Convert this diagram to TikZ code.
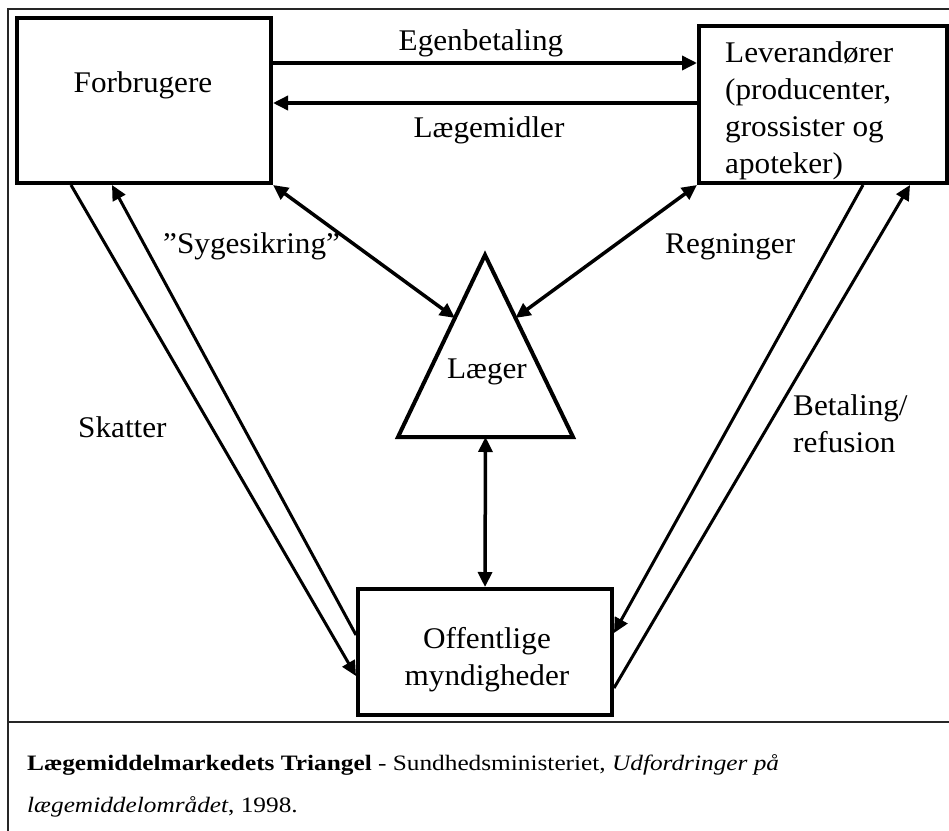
\documentclass[tikz,border=0pt]{standalone}
\usepackage{fontspec}
\setmainfont{Liberation Serif}[FakeStretch=1.04]
\newfontfamily\capfont{Liberation Serif}[FakeStretch=1.15]
\usetikzlibrary{arrows.meta,calc}

\begin{document}
\begin{tikzpicture}[x=1pt,y=-1pt,
  box/.style={draw,line width=4pt,inner sep=0pt,rectangle},
  lbl/.style={inner sep=0pt,font=\fontsize{30}{37}\selectfont},
  arr/.style={line width=3.5pt,-{Triangle[length=15pt,width=14pt]}},
  biarr/.style={line width=3.5pt,{Triangle[length=15pt,width=14pt]}-{Triangle[length=15pt,width=14pt]}},
  flow/.style={line width=3pt,-{Triangle[length=15pt,width=14pt]}},
  frameline/.style={line width=1.5pt,draw=black!85},
  caption/.style={anchor=base west,inner sep=0pt,font=\capfont\fontsize{22}{42}\selectfont}]
\useasboundingbox (0,0) rectangle (949,830);

% outer frame and caption divider
\draw[frameline] (955,9) -- (8,9) -- (8,840);
\draw[frameline] (8,722) -- (955,722);

% the three boxes
\node[box,minimum width=254pt,minimum height=165pt] (forb) at (144,100.5) {};
\node[box,minimum width=248pt,minimum height=157pt] (lev) at (823,104.5) {};
\node[box,minimum width=254pt,minimum height=126pt] (off) at (485,652) {};

% the triangle in the middle
\coordinate (apex) at (485,255);
\coordinate (bl) at (398,437);
\coordinate (br) at (573,437);
\draw[line width=4pt,line join=miter] (apex) -- (bl) -- (br) -- cycle;
\coordinate (tL) at ($(bl)!0.654!(apex)$);
\coordinate (tR) at ($(br)!0.654!(apex)$);
\coordinate (tB) at ($(bl)!0.5!(br)$);

% texts (multi-line nodes sit on the baseline of their last line)
\node[lbl,anchor=base] (forbt) at (143,92) {Forbrugere};
\node[lbl,anchor=base west,align=left] (levt) at (725,173) {Leverandører\\(producenter,\\grossister og\\apoteker)};
\node[lbl,anchor=base] (laeg) at (487,378) {Læger};
\node[lbl,anchor=base,align=center] (offt) at (487,685) {Offentlige\\myndigheder};
\node[lbl,anchor=base] (egen) at (481,50) {Egenbetaling};
\node[lbl,anchor=base] (lmid) at (489,137) {Lægemidler};
\node[lbl,anchor=base west] (syg) at (163,253) {”Sygesikring”};
\node[lbl,anchor=base west] (regn) at (665,253) {Regninger};
\node[lbl,anchor=base west] (skat) at (78,437) {Skatter};
\node[lbl,anchor=base west,align=left] (bet) at (793,452) {Betaling/\\refusion};

% top pair of arrows
\coordinate (egA) at ($(forb.north east)+(0,47)$);
\coordinate (lmA) at ($(forb.north east)+(0,87)$);
\draw[arr] (egA) -- (egA -| lev.west);
\draw[arr] (lmA -| lev.west) -- (lmA);

% links with the doctors
\draw[biarr] (forb.south east) -- (tL);
\draw[biarr] (lev.south west) -- (tR);
\draw[biarr] (tB) -- (off.north);

% flows to and from the authorities
\draw[flow] ($(forb.south west)+(56,0)$) -- ($(off.north west)+(0,89)$);
\draw[flow] ($(off.north west)+(0,48)$) -- ($(forb.south west)+(97,0)$);
\draw[flow] ($(lev.south west)+(166,0)$) -- ($(off.north east)+(0,46)$);
\draw[flow] ($(off.north east)+(0,101)$) -- ($(lev.south west)+(213,0)$);

% caption
\node[caption] (cap1) at (27,770) {\textbf{Lægemiddelmarkedets Triangel} - Sundhedsministeriet, \textit{Udfordringer på}};
\node[caption] (cap2) at (27,812) {\textit{lægemiddelområdet}, 1998.};
\end{tikzpicture}
\end{document}
